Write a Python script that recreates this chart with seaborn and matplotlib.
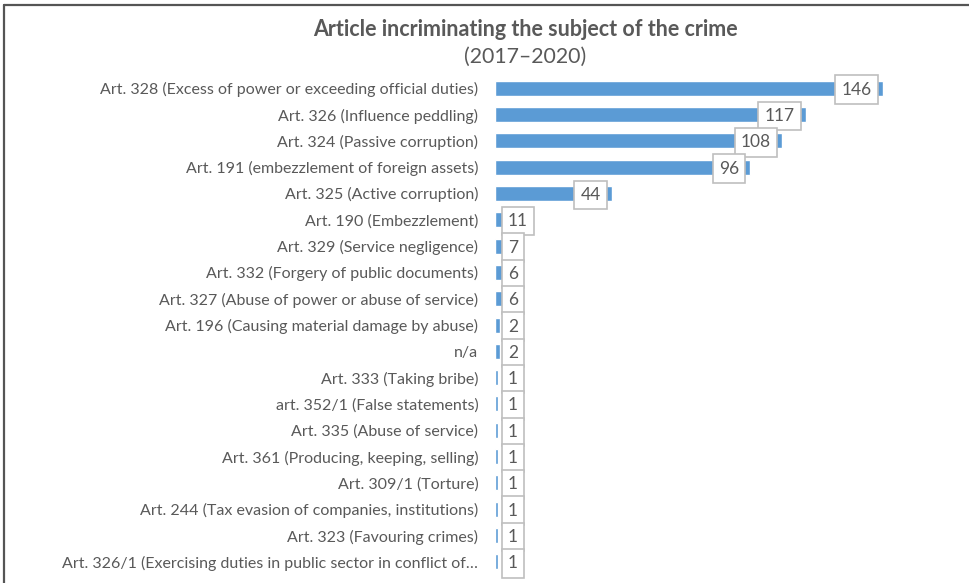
import matplotlib
matplotlib.use("Agg")
import matplotlib.pyplot as plt
import seaborn as sns
import pandas as pd

articles = [
    "Art. 328 (Excess of power or exceeding official duties)",
    "Art. 326 (Influence peddling)",
    "Art. 324 (Passive corruption)",
    "Art. 191 (embezzlement of foreign assets)",
    "Art. 325 (Active corruption)",
    "Art. 190 (Embezzlement)",
    "Art. 329 (Service negligence)",
    "Art. 332 (Forgery of public documents)",
    "Art. 327 (Abuse of power or abuse of service)",
    "Art. 196 (Causing material damage by abuse)",
    "n/a",
    "Art. 333 (Taking bribe)",
    "art. 352/1 (False statements)",
    "Art. 335 (Abuse of service)",
    "Art. 361 (Producing, keeping, selling)",
    "Art. 309/1 (Torture)",
    "Art. 244 (Tax evasion of companies, institutions)",
    "Art. 323 (Favouring crimes)",
    "Art. 326/1 (Exercising duties in public sector in conflict of\u2026",
]
cases = [146, 117, 108, 96, 44, 11, 7, 6, 6, 2, 2, 1, 1, 1, 1, 1, 1, 1, 1]

title = "Article incriminating the subject of the crime"
subtitle = "(2017\u20132020)"

BAR = "#5B9BD5"
TEXT = "#595959"

sns.set_theme(style="white")
plt.rcParams["font.family"] = ["Lato", "DejaVu Sans"]

df = pd.DataFrame({"article": articles, "cases": cases})

W, H = 969, 583
fig = plt.figure(figsize=(W / 100, H / 100), dpi=100)
ax = fig.add_axes([495 / W, 1 - 575 / H, (920 - 495) / W, (575 - 75) / H])

sns.barplot(data=df, x="cases", y="article", orient="h", color=BAR,
            saturation=1, width=0.57, ax=ax)

ax.set_xlim(0, 160)
ax.set_ylim(len(articles) - 0.5, -0.5)
ax.set_xlabel("")
ax.set_ylabel("")
ax.set_xticks([])
ax.tick_params(axis="y", length=0, pad=12, labelsize=11.5, labelcolor=TEXT)
for s in ax.spines.values():
    s.set_visible(False)

# value labels in boxed callouts
px_per_unit = (920 - 495) / 160
box_kw = dict(boxstyle="square,pad=0.36", fc="white", ec="#BFBFBF", lw=1.2)
for i, v in enumerate(cases):
    digits = len(str(v))
    box_w = 13 + 9 * digits
    if v * px_per_unit - 5 - box_w >= 7:
        ax.annotate(str(v), xy=(v, i), xytext=(-11, 0), textcoords="offset pixels",
                    ha="right", va="center_baseline", fontsize=12.5, color=TEXT, bbox=box_kw)
    else:
        ax.annotate(str(v), xy=(0, i), xytext=(13, 0), textcoords="offset pixels",
                    ha="left", va="center_baseline", fontsize=12.5, color=TEXT, bbox=box_kw)

fig.text(525 / W, 1 - 29 / H, title, ha="center", va="center",
         fontsize=15.5, fontweight="bold", color=TEXT)
fig.text(525 / W, 1 - 57 / H, subtitle, ha="center", va="center",
         fontsize=15.3, color=TEXT)

# frame lines along the top and left edges
fig.add_artist(plt.Line2D([3.5 / W, 1], [1 - 5 / H, 1 - 5 / H], color="#555555", lw=1.6,
                          transform=fig.transFigure))
fig.add_artist(plt.Line2D([3.5 / W, 3.5 / W], [0, 1 - 5 / H], color="#555555", lw=1.6,
                          transform=fig.transFigure))

fig.savefig("out.png", dpi=100, facecolor="white")
